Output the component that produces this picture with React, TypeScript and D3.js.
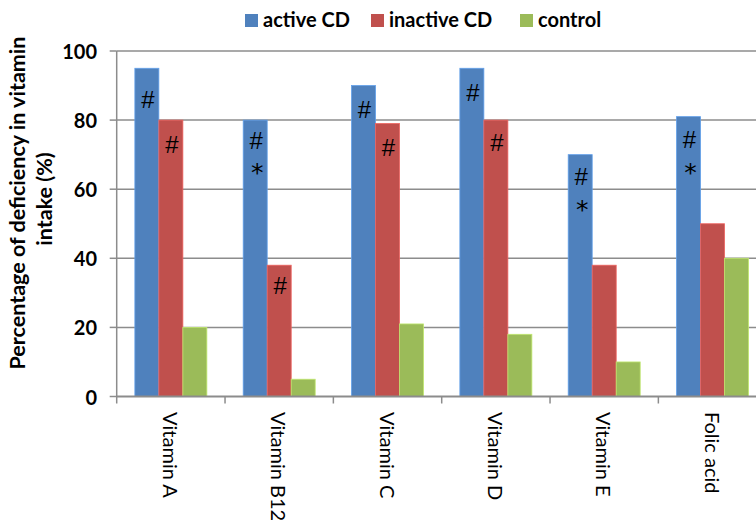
import React from "react";
import * as d3 from "d3";

const categories = ["Vitamin A", "Vitamin B12", "Vitamin C", "Vitamin D", "Vitamin E", "Folic acid"];
const seriesNames = ["active CD", "inactive CD", "control"];
const activeCD = [95, 80, 90, 95, 70, 81];
const inactiveCD = [80, 38, 79, 80, 38, 50];
const control = [20, 5, 21, 18, 10, 40];
const yTicks = [0, 20, 40, 60, 80, 100];
const colors = ["#4F81BD", "#C0504D", "#9BBB59"];
// significance marks: category index, series index, symbol, vertical position (value units)
const marks: [number, number, string, number][] = [
  [0, 0, "#", 86], [0, 1, "#", 73],
  [1, 0, "#", 74], [1, 0, "*", 66], [1, 1, "#", 32],
  [2, 0, "#", 83], [2, 1, "#", 72],
  [3, 0, "#", 88], [3, 1, "#", 73.5],
  [4, 0, "#", 63.5], [4, 0, "*", 55.5],
  [5, 0, "#", 74.3], [5, 0, "*", 66],
];

const W = 756, H = 520;
const left = 116.7, right = 766.7, top = 51, bottom = 396.5;
const font = "Lato, 'Open Sans', sans-serif";

export default function App() {
  const values = [activeCD, inactiveCD, control];
  const x = d3.scaleBand<string>().domain(categories).range([left, right]).paddingInner(0).paddingOuter(0);
  const xs = d3.scaleBand<string>().domain(seriesNames).range([0, x.bandwidth()]).paddingInner(0).paddingOuter(0.757);
  const y = d3.scaleLinear().domain([0, 100]).range([bottom, top]);
  const grid = "#8C8C8C";

  const legendX = [245, 371, 520];
  return (
    <div style={{ position: "absolute", left: 0, top: 0 }}>
      <svg width={W} height={H} style={{ display: "block", background: "#fff" }} fontFamily={font}>
        {yTicks.filter(t => t > 0).map(t => (
          <line key={"g" + t} x1={left} x2={W} y1={y(t)} y2={y(t)} stroke={grid} strokeWidth={1.5} />
        ))}
        {values.map((vals, si) =>
          categories.map((c, ci) => (
            <rect key={si + "-" + ci}
              x={(x(c) as number) + (xs(seriesNames[si]) as number)}
              y={y(vals[ci])}
              width={xs.bandwidth()}
              height={y(0) - y(vals[ci])}
              fill={colors[si]}
              stroke={d3.color(colors[si])!.brighter(0.6).toString()}
              strokeWidth={0.8} />
          ))
        )}
        {marks.map(([ci, si, sym, v], i) => {
          const cx = (x(categories[ci]) as number) + (xs(seriesNames[si]) as number) + xs.bandwidth() / 2 + 1;
          return sym === "*" ? (
            <text key={"m" + i} x={cx + 1} y={y(v) + 13} textAnchor="middle"
              fontFamily="'DejaVu Sans', sans-serif" fontSize={25} fill="#000">{sym}</text>
          ) : (
            <text key={"m" + i} x={cx} y={y(v) + 8.3} textAnchor="middle"
              fontFamily="'Liberation Sans', Arial, sans-serif" fontSize={24} fill="#000">{sym}</text>
          );
        })}
        {/* axes */}
        <line x1={left} x2={left} y1={top} y2={bottom + 7} stroke={grid} strokeWidth={1.5} />
        <line x1={left} x2={W} y1={bottom} y2={bottom} stroke={grid} strokeWidth={1.8} />
        {yTicks.map(t => (
          <g key={"t" + t}>
            <line x1={left - 7} x2={left} y1={y(t)} y2={y(t)} stroke={grid} strokeWidth={1.5} />
            <text x={97} y={y(t)} textAnchor="end" dominantBaseline="central" fontSize={20} fontWeight="bold" fill="#000">{t}</text>
          </g>
        ))}
        {categories.map((c, i) => (
          <g key={"c" + c}>
            <line x1={(x(c) as number) + x.bandwidth()} x2={(x(c) as number) + x.bandwidth()} y1={bottom} y2={bottom + 7} stroke={grid} strokeWidth={1.5} />
            <text transform={`translate(${(x(c) as number) + x.bandwidth() / 2},412) rotate(90)`}
              textAnchor="start" dominantBaseline="central" fontSize={20} fill="#000">{c}</text>
          </g>
        ))}
        {/* y title */}
        <text transform="translate(17,203) rotate(-90)" textAnchor="middle" dominantBaseline="central" fontSize={21.5} fontWeight="bold" fill="#000">Percentage of deficiency in vitamin</text>
        <text transform="translate(44,199) rotate(-90)" textAnchor="middle" dominantBaseline="central" fontSize={21.5} fontWeight="bold" fill="#000">intake (%)</text>
        {/* legend */}
        {seriesNames.map((s, i) => (
          <g key={"l" + s}>
            <rect x={legendX[i]} y={14} width={13} height={13} fill={colors[i]} />
            <text x={legendX[i] + 18} y={27} fontSize={20} fontWeight="bold" fill="#000">{s}</text>
          </g>
        ))}
      </svg>
    </div>
  );
}
